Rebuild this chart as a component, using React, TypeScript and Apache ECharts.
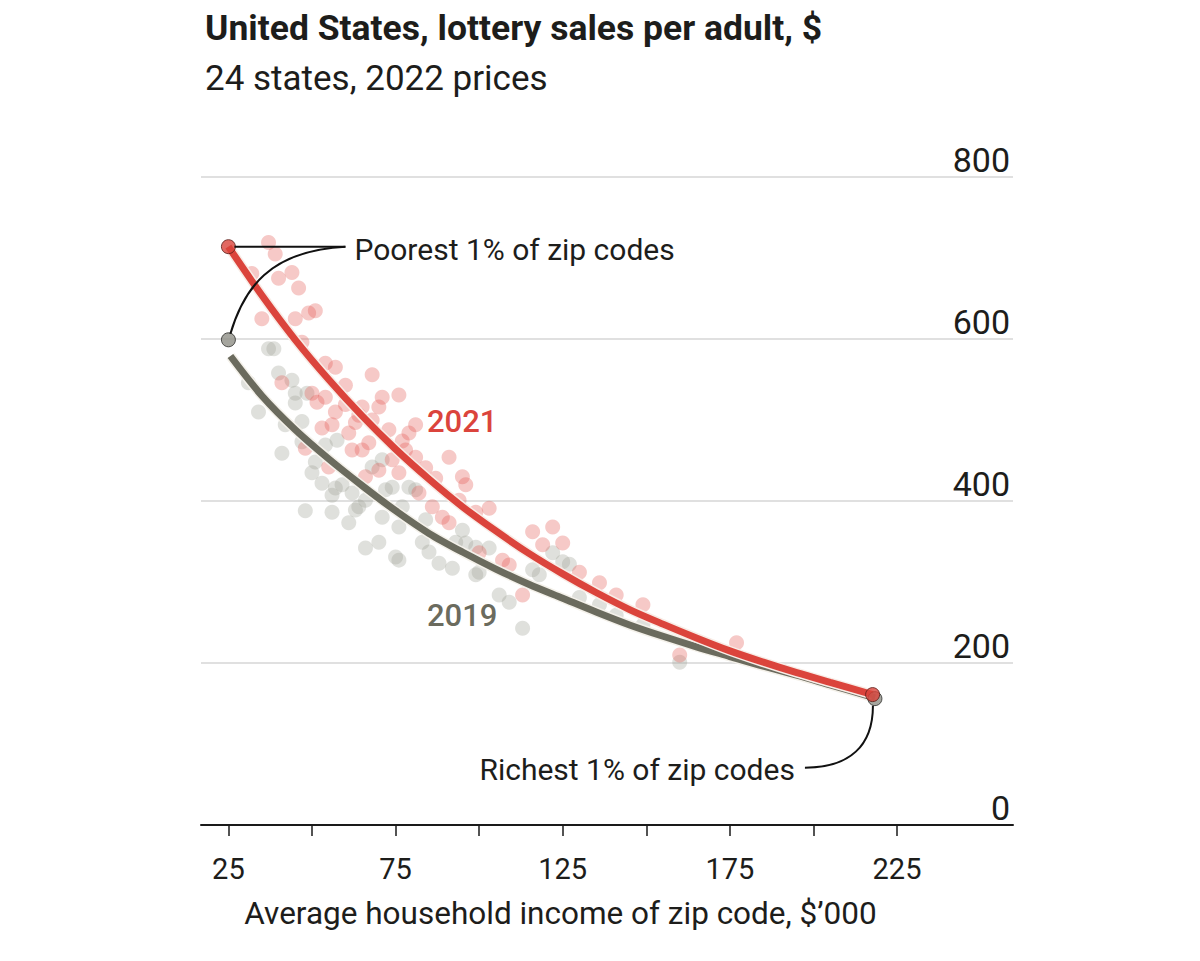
import React, { useEffect, useRef } from "react";
import * as echarts from "echarts";

const FONT = "Roboto, 'Noto Sans', sans-serif";

// Axis ticks / labels
const xTickValues = [25, 50, 75, 100, 125, 150, 175, 200, 225];
const xLabelValues = [25, 75, 125, 175, 225];
const yMin = 0;
const yMax = 800;
const yInterval = 200;

// Scatter: lottery sales per adult by income bin
const points2021: number[][] = [
  [37, 719], [39, 705], [32, 681], [40, 675], [44, 682], [46, 663], [35, 625], [45, 625],
  [49, 632], [51, 635], [47, 596], [54, 570], [57, 565], [68, 556], [60, 543], [41, 546],
  [50, 533], [54, 528], [71, 528], [76, 531], [65, 516], [51.5, 522], [57, 510], [53, 490],
  [56, 494], [61, 484], [62, 463], [48, 465], [65, 463], [64, 506], [68, 500], [70, 516],
  [73, 488], [70, 438], [66, 430], [55, 442], [76, 435], [74, 451], [81, 494], [79, 484],
  [78, 463], [81, 454], [84, 441], [91, 454], [95, 430], [96, 420], [82, 410], [94, 401],
  [103, 391], [86, 393], [89, 380], [91, 373], [99, 386], [116, 362], [122, 368], [119, 346],
  [125, 348], [100, 336], [107, 327], [109, 321], [113, 284], [130, 312], [136, 299],
  [141, 284], [149, 272], [177, 225], [160, 210], [60, 519], [63, 497], [67, 472], [77, 474],
  [87, 428],
];

const points2019: number[][] = [
  [37, 588], [38.6, 588], [40, 558], [44, 549], [31, 546], [45, 533], [48.5, 533], [45, 521],
  [34, 510], [47, 498], [42, 494], [41, 459], [47, 473], [54, 469], [57.5, 475], [51, 448],
  [50, 435], [53, 422], [57, 416], [59, 420], [62, 410], [56, 407], [64, 393], [63, 389],
  [48, 388], [56, 386], [61, 373], [66, 401], [72, 414], [74, 417], [71, 380], [76, 368],
  [66, 342], [70, 349], [75, 331], [68, 442], [71, 451], [79, 417], [81, 414], [77, 393],
  [84, 377], [95, 364], [93, 349], [96, 348], [99, 343], [103, 342], [83, 349], [85, 337],
  [76, 327], [88, 323], [92, 317], [99, 309], [100, 312], [106, 284], [109, 275], [116, 315],
  [118, 309], [122, 336], [113, 243], [125, 325], [127, 322], [130, 281], [136, 272],
  [141, 259], [149, 247], [160, 201],
];

// Fitted trend lines
const trend2021: number[][] = [
  [25, 714], [35, 654], [45, 599], [55, 550], [65, 505], [75, 464], [85, 427], [95, 393],
  [105, 363], [115, 335], [125, 310], [135, 287], [145, 266], [155, 248], [165, 231],
  [175, 215], [185, 201], [195, 188], [205, 176], [217.7, 161],
];
const trend2019: number[][] = [
  [25.6, 579], [35, 530], [45, 488], [55, 452], [65, 419], [75, 388], [85, 360], [95, 337],
  [105, 316], [115, 297], [125, 280], [135, 263], [145, 247], [155, 233], [165, 220],
  [175, 208], [185, 196], [195, 185], [205, 173], [218.4, 157],
];

// Poorest / richest 1% of zip codes
const poorest2021 = [25, 714];
const poorest2019 = [25, 599];
const richest2021 = [217.7, 161];
const richest2019 = [218.4, 156];

const RED = "#db443c";
const GREY = "#6b6b5e";
const INK = "#1d1d1b";

export default function App() {
  const ref = useRef<HTMLDivElement>(null);

  useEffect(() => {
    if (!ref.current) return;
    const chart = echarts.init(ref.current, undefined, { renderer: "svg" });
    const option: any = {
      animation: false,
      backgroundColor: "#ffffff",
      textStyle: { fontFamily: FONT },
      title: {
        left: 200,
        top: 5,
        text: "United States, lottery sales per adult, $",
        subtext: "24 states, 2022 prices",
        itemGap: 15,
        textStyle: { fontSize: 35.5, fontWeight: "bold", color: INK, fontFamily: FONT },
        subtextStyle: { fontSize: 35, color: INK, fontFamily: FONT },
      },
      grid: { left: 201, right: 187, top: 177, bottom: 136 },
      xAxis: {
        type: "value",
        min: 16.8,
        max: 259.7,
        name: "Average household income of zip code, $\u2019000",
        nameLocation: "middle",
        nameGap: 72,
        nameTextStyle: { fontSize: 31.5, color: INK, fontFamily: FONT, padding: [0, 93, 0, 0] },
        axisLine: { show: true, lineStyle: { color: "#1a1a1a", width: 2 } },
        axisTick: {
          show: true,
          customValues: xTickValues,
          length: 11,
          lineStyle: { color: "#1a1a1a", width: 1.5 },
        },
        axisLabel: {
          customValues: xLabelValues,
          fontSize: 29,
          color: INK,
          margin: 29,
          fontFamily: FONT,
        },
        splitLine: { show: false },
      },
      yAxis: {
        type: "value",
        min: yMin,
        max: yMax,
        interval: yInterval,
        position: "right",
        axisLine: { show: false },
        axisTick: { show: false },
        axisLabel: {
          inside: true,
          verticalAlign: "bottom",
          margin: 3,
          fontSize: 34,
          color: INK,
          fontFamily: FONT,
          showMinLabel: true,
          showMaxLabel: true,
        },
        splitLine: { show: true, lineStyle: { color: "#d6d6d6", width: 1.5 } },
      },
      series: [
        {
          type: "scatter",
          name: "2019 zip codes",
          data: points2019,
          symbolSize: 15,
          itemStyle: { color: "rgba(160,162,152,0.42)" },
          silent: true,
        },
        {
          type: "scatter",
          name: "2021 zip codes",
          data: points2021,
          symbolSize: 15,
          itemStyle: { color: "rgba(226,86,82,0.40)" },
          silent: true,
        },
        {
          type: "line",
          name: "2019 outline",
          data: trend2019,
          smooth: 0.3,
          showSymbol: false,
          lineStyle: { color: "#f4f1ea", width: 10 },
          silent: true,
        },
        {
          type: "line",
          name: "2019",
          data: trend2019,
          smooth: 0.3,
          showSymbol: false,
          lineStyle: { color: GREY, width: 7 },
          silent: true,
        },
        {
          type: "line",
          name: "2021 outline",
          data: trend2021,
          smooth: 0.3,
          showSymbol: false,
          lineStyle: { color: "#f8ece6", width: 10 },
          silent: true,
        },
        {
          type: "line",
          name: "2021",
          data: trend2021,
          smooth: 0.3,
          showSymbol: false,
          lineStyle: { color: RED, width: 7 },
          silent: true,
        },
        {
          type: "scatter",
          name: "2019 extremes",
          data: [poorest2019, richest2019],
          symbolSize: 14,
          itemStyle: { color: "#8e8e86", borderColor: "#2b2b28", borderWidth: 1 },
          silent: true,
          z: 5,
        },
        {
          type: "scatter",
          name: "2021 extremes",
          data: [poorest2021, richest2021],
          symbolSize: 14,
          itemStyle: { color: "#d9443b", borderColor: "#5a1d18", borderWidth: 1 },
          silent: true,
          z: 6,
        },
      ],
    };
    chart.setOption(option);

    const toPx = (p: number[]) => chart.convertToPixel({ gridIndex: 0 }, p) as number[];
    const [rx, ry] = toPx(poorest2021);
    const [gx, gy] = toPx(poorest2019);
    const [ex, ey] = toPx(richest2019);

    const stroke = { stroke: "#111111", lineWidth: 2, fill: null as any };
    chart.setOption({
      graphic: [
        {
          type: "line",
          z: 100,
          shape: { x1: rx + 6, y1: ry, x2: rx + 117, y2: ry },
          style: stroke,
        },
        {
          type: "bezierCurve",
          z: 100,
          shape: {
            x1: gx + 2,
            y1: gy - 6,
            cpx1: gx + 15,
            cpy1: gy - 50,
            cpx2: gx + 40,
            cpy2: ry + 4,
            x2: rx + 117,
            y2: ry,
          },
          style: stroke,
        },
        {
          type: "text",
          z: 100,
          x: rx + 126,
          y: ry + 3,
          style: {
            text: "Poorest 1% of zip codes",
            fontSize: 30,
            fontFamily: FONT,
            fill: INK,
            verticalAlign: "middle",
            align: "left",
          },
        },
        {
          type: "bezierCurve",
          z: 100,
          shape: {
            x1: ex - 70,
            y1: ey + 69,
            cpx1: ex - 25,
            cpy1: ey + 69,
            cpx2: ex - 2,
            cpy2: ey + 47,
            x2: ex - 2,
            y2: ey + 7,
          },
          style: stroke,
        },
        {
          type: "text",
          z: 100,
          x: ex - 80,
          y: ey + 71,
          style: {
            text: "Richest 1% of zip codes",
            fontSize: 30,
            fontFamily: FONT,
            fill: INK,
            verticalAlign: "middle",
            align: "right",
          },
        },
        {
          type: "text",
          z: 100,
          x: 427,
          y: 421,
          style: {
            text: "2021",
            fontSize: 31,
            fontWeight: 500,
            fontFamily: FONT,
            fill: RED,
            verticalAlign: "middle",
            align: "left",
          },
        },
        {
          type: "text",
          z: 100,
          x: 427,
          y: 615,
          style: {
            text: "2019",
            fontSize: 31,
            fontWeight: 500,
            fontFamily: FONT,
            fill: GREY,
            verticalAlign: "middle",
            align: "left",
          },
        },
      ],
    });

    return () => chart.dispose();
  }, []);

  return (
    <div
      ref={ref}
      style={{ position: "fixed", left: 0, top: 0, width: 1200, height: 961, background: "#fff" }}
    />
  );
}
